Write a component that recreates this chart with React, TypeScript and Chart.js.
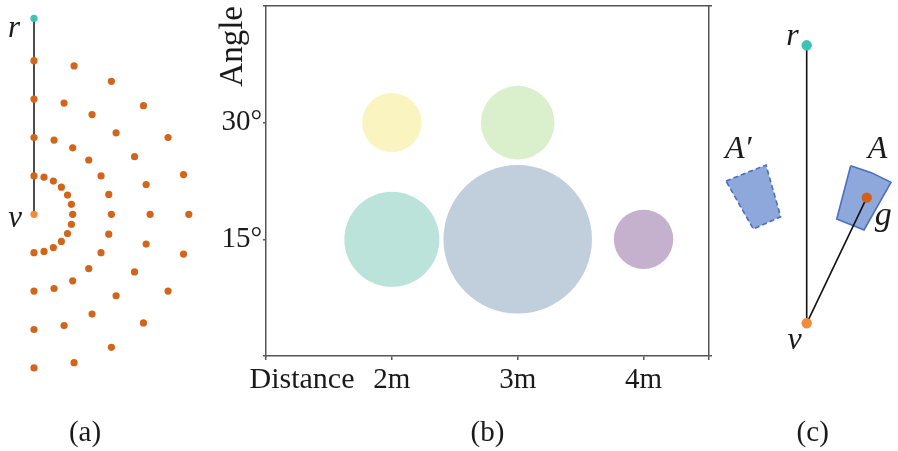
import React, { useEffect, useRef } from 'react';
import { Chart, registerables } from 'chart.js';

Chart.register(...registerables);

const SERIF = '"Liberation Serif", "Times New Roman", serif';
const TEXT = '#1a1a1a';

// ---------- Panel (a): sample grid around the viewer ----------
const SAMPLE_RANGES = [1, 2, 3, 4];
const SAMPLE_BEARINGS_DEG = [0, 15, 30, 45, 60, 75, 90, 105, 120, 135, 150, 165, 180];
const A_VIEWER = { x: 0, y: 0 };
const A_REFERENCE = { x: 0, y: 5.1 };

// ---------- Panel (b): bubble chart ----------
const DISTANCES = [2, 3, 2, 3, 4];
const ANGLES = [30, 30, 15, 15, 15];
const BUBBLE_VALUES = [1.0, 1.24, 1.6, 2.5, 1.0];
const BUBBLE_COLORS = ['#FAF5C0', '#DAF0CC', '#BCE3D9', '#C1CFDC', '#C5B1CD'];
const X_TICKS = [1, 2, 3, 4, 4.52];
const X_TICK_LABELS = ['', '2m', '3m', '4m', ''];
const Y_TICKS = [0, 15, 30, 45];
const Y_TICK_LABELS = ['', '15°', '30°', ''];

// ---------- Panel (c): region and its mirror ----------
const C_VIEWER = { x: 0, y: 0 };
const C_REFERENCE = { x: 0, y: 5 };
const C_CENTROID = { x: 1.08, y: 2.26 };
const REGION_X = [0.791, 1.164, 1.516, 1.031, 0.54];
const REGION_Y = [2.835, 2.71, 2.536, 1.678, 1.876];
const MIRROR_X = [-1.451, -0.732, -0.468, -0.96];
const MIRROR_Y = [2.559, 2.847, 1.917, 1.696];

type Label = {
  text: string; x: number; y: number; dx?: number; dy?: number;
  align?: CanvasTextAlign; baseline?: CanvasTextBaseline; italic?: boolean; size?: number;
};

function makeLabels(id: string, items: Label[]) {
  return {
    id,
    afterDraw(chart: any) {
      const ctx = chart.ctx as CanvasRenderingContext2D;
      const xs = chart.scales.x;
      const ys = chart.scales.y;
      ctx.save();
      for (const it of items) {
        const px = xs.getPixelForValue(it.x) + (it.dx || 0);
        const py = ys.getPixelForValue(it.y) + (it.dy || 0);
        ctx.font = `${it.italic ? 'italic ' : ''}${it.size || 29}px ${SERIF}`;
        ctx.fillStyle = TEXT;
        ctx.textAlign = it.align || 'center';
        ctx.textBaseline = it.baseline || 'alphabetic';
        ctx.fillText(it.text, px, py);
      }
      ctx.restore();
    },
  };
}

const hiddenAxes = (xmin: number, xmax: number, ymin: number, ymax: number) => ({
  x: { type: 'linear' as const, display: false, min: xmin, max: xmax },
  y: { type: 'linear' as const, display: false, min: ymin, max: ymax },
});

const baseOptions = {
  animation: false as const,
  responsive: false,
  devicePixelRatio: 1,
  layout: { padding: 0, autoPadding: false },
  plugins: { legend: { display: false }, tooltip: { enabled: false } },
};

const noEdgePadding = (s: any) => {
  s.paddingTop = 0;
  s.paddingBottom = 0;
  s.paddingLeft = 0;
  s.paddingRight = 0;
};

function configA(): any {
  const rad = Math.PI / 180;
  const samples = SAMPLE_RANGES.flatMap((d) =>
    SAMPLE_BEARINGS_DEG.map((b) => ({ x: d * Math.sin(b * rad), y: d * Math.cos(b * rad) }))
  );
  return {
    type: 'scatter',
    data: {
      datasets: [
        { data: [A_REFERENCE], pointRadius: 3.6, backgroundColor: '#3EC2B3', borderWidth: 0, order: 0 },
        { data: [A_VIEWER], pointRadius: 3.6, backgroundColor: '#F28B3C', borderWidth: 0, order: 0 },
        { data: samples, pointRadius: 3.6, backgroundColor: '#D2651C', borderWidth: 0, order: 1 },
        { data: [A_VIEWER, A_REFERENCE], showLine: true, borderColor: '#111', borderWidth: 1.5, pointRadius: 0, order: 2 },
      ],
    },
    options: { ...baseOptions, scales: hiddenAxes(-0.8786, 4.2894, -6.164, 5.581) },
    plugins: [
      makeLabels('labelsA', [
        { text: 'r', x: A_REFERENCE.x, y: A_REFERENCE.y, dx: -14, dy: 19, align: 'right', italic: true, size: 31 },
        { text: 'v', x: A_VIEWER.x, y: A_VIEWER.y, dx: -12, dy: 13, align: 'right', italic: true, size: 31 },
        { text: '(a)', x: A_VIEWER.x, y: A_VIEWER.y, dx: 51, dy: 219, baseline: 'middle' },
      ]),
    ],
  };
}

function configB(): any {
  const tickFont = { family: SERIF, size: 29 };
  const axisColor = '#555';
  return {
    type: 'bubble',
    data: {
      datasets: [
        {
          data: DISTANCES.map((d, i) => ({ x: d, y: ANGLES[i], r: BUBBLE_VALUES[i] * 29.7 })),
          backgroundColor: BUBBLE_COLORS,
          borderWidth: 0,
          clip: false,
        },
      ],
    },
    options: {
      ...baseOptions,
      layout: { autoPadding: false, padding: { top: 6, right: 11, left: 0, bottom: 0 } },
      scales: {
        x: {
          type: 'linear',
          position: 'bottom',
          min: 1,
          max: 4.52,
          afterBuildTicks: (s: any) => { s.ticks = X_TICKS.map((v) => ({ value: v })); },
          afterFit: (s: any) => { s.height = 95; noEdgePadding(s); },
          ticks: {
            autoSkip: false,
            maxRotation: 0,
            padding: 3,
            color: TEXT,
            font: tickFont,
            callback: (v: number) => X_TICK_LABELS[X_TICKS.indexOf(v)] ?? '',
          },
          grid: { drawOnChartArea: false, drawTicks: true, tickLength: 4, color: axisColor, lineWidth: 1.5 },
          border: { display: true, color: axisColor, width: 1.5 },
          title: { display: true, text: '(b)', color: TEXT, font: tickFont, padding: { top: 0, bottom: 0 } },
        },
        y: {
          type: 'linear',
          position: 'left',
          min: 0,
          max: 45,
          afterBuildTicks: (s: any) => { s.ticks = Y_TICKS.map((v) => ({ value: v })); },
          afterFit: (s: any) => { s.width = 66; noEdgePadding(s); },
          ticks: {
            autoSkip: false,
            padding: 1,
            color: TEXT,
            font: tickFont,
            callback: (v: number) => Y_TICK_LABELS[Y_TICKS.indexOf(v)] ?? '',
          },
          grid: { drawOnChartArea: false, drawTicks: true, tickLength: 3, color: axisColor, lineWidth: 1.5 },
          border: { display: true, color: axisColor, width: 1.5 },
          title: { display: true, text: 'Angle', align: 'end', color: TEXT, font: { family: SERIF, size: 33 }, padding: { top: 14, bottom: 0 } },
        },
        x2: {
          type: 'linear',
          position: 'top',
          min: 1,
          max: 4.52,
          afterBuildTicks: (s: any) => { s.ticks = []; },
          afterFit: (s: any) => { s.height = 0; noEdgePadding(s); },
          ticks: { display: false },
          grid: { drawOnChartArea: false, drawTicks: false },
          border: { display: true, color: axisColor, width: 1.5 },
        },
        y2: {
          type: 'linear',
          position: 'right',
          min: 0,
          max: 45,
          afterBuildTicks: (s: any) => { s.ticks = [0, 45].map((v) => ({ value: v })); },
          afterFit: (s: any) => { s.width = 0; noEdgePadding(s); },
          ticks: { display: false },
          grid: { drawOnChartArea: false, drawTicks: true, tickLength: 3, color: axisColor, lineWidth: 1.5 },
          border: { display: true, color: axisColor, width: 1.5 },
        },
      },
    },
    plugins: [
      makeLabels('labelsB', [
        { text: 'Distance', x: 1.286, y: 0, dy: 24, baseline: 'middle', size: 30 },
      ]),
    ],
  };
}

function configC(): any {
  const region = REGION_X.map((x, i) => ({ x, y: REGION_Y[i] }));
  const mirror = MIRROR_X.map((x, i) => ({ x, y: MIRROR_Y[i] }));
  return {
    type: 'scatter',
    data: {
      datasets: [
        { data: [C_REFERENCE], pointRadius: 5.2, backgroundColor: '#3EC2B3', borderWidth: 0, order: 0 },
        { data: [C_VIEWER], pointRadius: 5.2, backgroundColor: '#F28B3C', borderWidth: 0, order: 0 },
        { data: [C_CENTROID], pointRadius: 5.2, backgroundColor: '#D2601A', borderWidth: 0, order: 0 },
        { data: [C_VIEWER, C_REFERENCE], showLine: true, borderColor: '#111', borderWidth: 1.6, pointRadius: 0, order: 1 },
        { data: [C_VIEWER, C_CENTROID], showLine: true, borderColor: '#111', borderWidth: 1.6, pointRadius: 0, order: 1 },
        {
          data: [...region, region[0]], showLine: true, fill: 'shape', backgroundColor: '#8FA8DC',
          borderColor: '#4A6FBF', borderWidth: 1.6, pointRadius: 0, tension: 0, order: 2,
        },
        {
          data: [...mirror, mirror[0]], showLine: true, fill: 'shape', backgroundColor: '#8FA8DC',
          borderColor: '#4A6FBF', borderWidth: 1.6, borderDash: [5, 3], pointRadius: 0, tension: 0, order: 2,
        },
      ],
    },
    options: { ...baseOptions, scales: hiddenAxes(-1.559, 1.642, -2.297, 5.815) },
    plugins: [
      makeLabels('labelsC', [
        { text: 'r', x: C_REFERENCE.x, y: C_REFERENCE.y, dx: -8, dy: 0, align: 'right', italic: true, size: 32 },
        { text: 'v', x: C_VIEWER.x, y: C_VIEWER.y, dx: -5, dy: 26, align: 'right', italic: true, size: 32 },
        { text: 'A\u2032', x: MIRROR_X[0], y: MIRROR_Y[0], dx: -1, dy: -23, align: 'left', italic: true, size: 32 },
        { text: 'A', x: REGION_X[0], y: REGION_Y[0], dx: 17, dy: -8, align: 'left', italic: true, size: 32 },
        { text: 'g', x: C_CENTROID.x, y: C_CENTROID.y, dx: 8, dy: 27, align: 'left', italic: true, size: 34 },
        { text: '(c)', x: C_VIEWER.x, y: C_VIEWER.y, dx: 6, dy: 110, baseline: 'middle' },
      ]),
    ],
  };
}

export default function App() {
  const aRef = useRef<HTMLCanvasElement>(null);
  const bRef = useRef<HTMLCanvasElement>(null);
  const cRef = useRef<HTMLCanvasElement>(null);

  useEffect(() => {
    const charts = [
      new Chart(aRef.current as HTMLCanvasElement, configA()),
      new Chart(bRef.current as HTMLCanvasElement, configB()),
      new Chart(cRef.current as HTMLCanvasElement, configC()),
    ];
    return () => charts.forEach((c) => c.destroy());
  }, []);

  return (
    <div style={{ position: 'fixed', left: 0, top: 0, width: 898, height: 451, background: '#fff', overflow: 'hidden' }}>
      <canvas ref={aRef} width={200} height={451} style={{ position: 'absolute', left: 0, top: 0 }} />
      <canvas ref={bRef} width={520} height={451} style={{ position: 'absolute', left: 200, top: 0 }} />
      <canvas ref={cRef} width={178} height={451} style={{ position: 'absolute', left: 720, top: 0 }} />
    </div>
  );
}
